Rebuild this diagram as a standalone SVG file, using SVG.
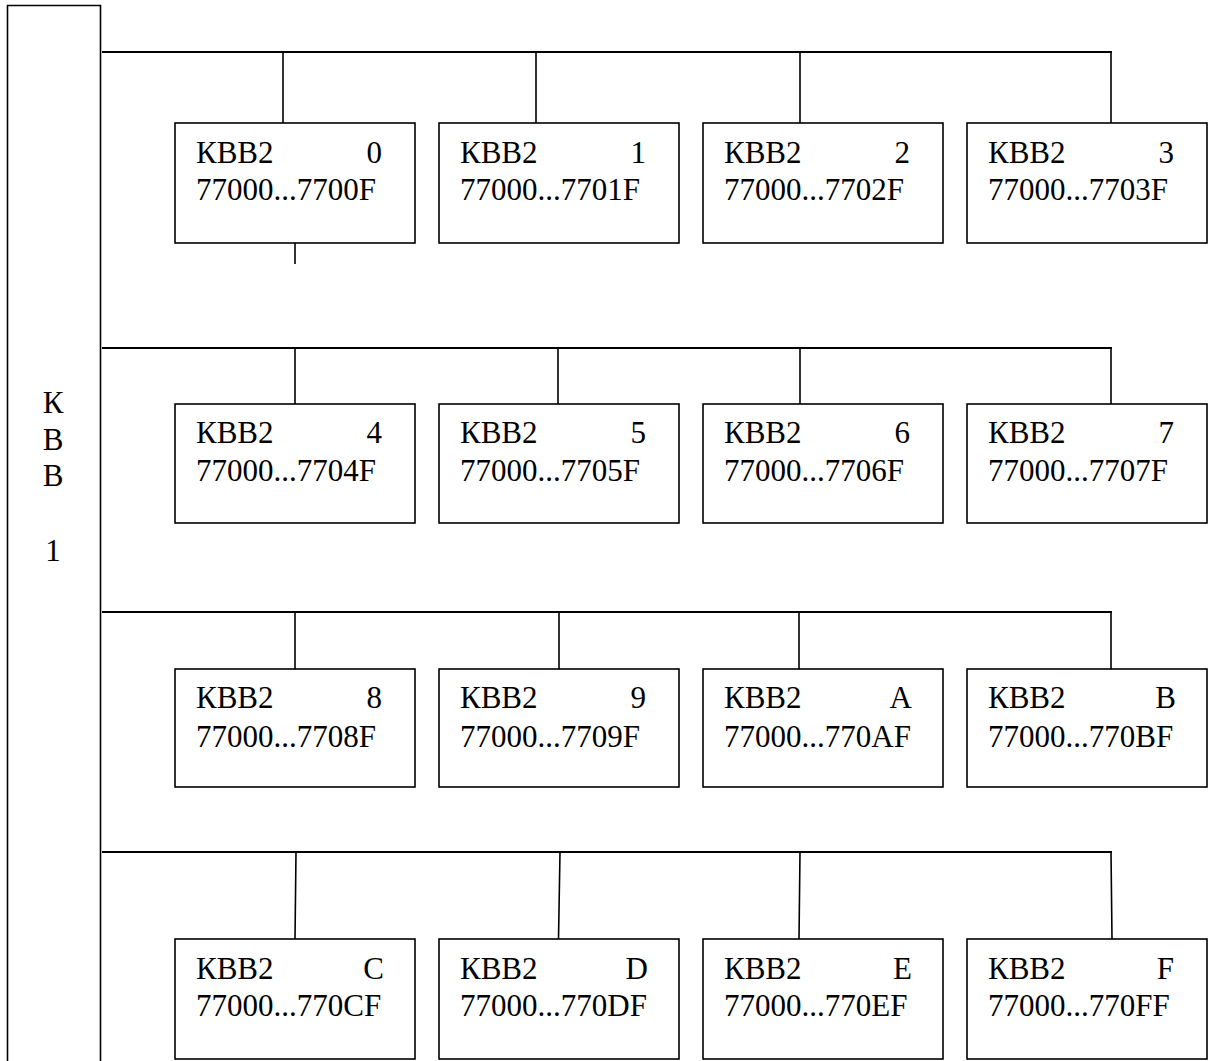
<svg xmlns="http://www.w3.org/2000/svg" width="1208" height="1061" viewBox="0 0 1208 1061">
<style>
.box{fill:#fff;stroke:#000;stroke-width:1.6}
.bus{fill:none;stroke:#000;stroke-width:2.2}
.drop{fill:none;stroke:#000;stroke-width:1.6}
text{font-family:"Liberation Serif","Times New Roman",serif;font-size:31px;fill:#000}
.r{text-anchor:end}
.c{text-anchor:middle}
</style>
<rect width="1208" height="1061" fill="#fff"/>
<g id="kvv1">
<path class="box" d="M7.5,1070 V5.5 H100.5 V1070"/>
<text class="c" x="53" y="413">К</text>
<text class="c" x="53" y="450">В</text>
<text class="c" x="53" y="486">В</text>
<text class="c" x="53" y="561">1</text>
</g>
<g id="connectors">
<path class="bus" d="M102,52 H1112 M102,348 H1112 M102,612 H1112 M102,852 H1112"/>
<path class="drop" d="M283,52 V123 M536,52 V123 M800,52 V123 M1111,52 V123 M295,243 V264
M295,348 V404 M558,348 V404 M800,348 V404 M1111,348 V404
M295,612 V669 M559,612 V669 M799,612 V669 M1111,612 V669
M296,852 L295,939 M560,852 L558.5,939 M800,852 L799,939 M1111,852 L1112,939"/>
</g>
<g id="n0"><rect class="box" x="175" y="123" width="240" height="120"/><text x="196" y="162.5">КВВ2</text><text class="r" x="382" y="162.5">0</text><text x="196" y="200">77000...7700F</text></g>
<g id="n1"><rect class="box" x="439" y="123" width="240" height="120"/><text x="460" y="162.5">КВВ2</text><text class="r" x="646" y="162.5">1</text><text x="460" y="200">77000...7701F</text></g>
<g id="n2"><rect class="box" x="703" y="123" width="240" height="120"/><text x="724" y="162.5">КВВ2</text><text class="r" x="910" y="162.5">2</text><text x="724" y="200">77000...7702F</text></g>
<g id="n3"><rect class="box" x="967" y="123" width="240" height="120"/><text x="988" y="162.5">КВВ2</text><text class="r" x="1174" y="162.5">3</text><text x="988" y="200">77000...7703F</text></g>
<g id="n4"><rect class="box" x="175" y="404" width="240" height="119"/><text x="196" y="443">КВВ2</text><text class="r" x="382" y="443">4</text><text x="196" y="480.5">77000...7704F</text></g>
<g id="n5"><rect class="box" x="439" y="404" width="240" height="119"/><text x="460" y="443">КВВ2</text><text class="r" x="646" y="443">5</text><text x="460" y="480.5">77000...7705F</text></g>
<g id="n6"><rect class="box" x="703" y="404" width="240" height="119"/><text x="724" y="443">КВВ2</text><text class="r" x="910" y="443">6</text><text x="724" y="480.5">77000...7706F</text></g>
<g id="n7"><rect class="box" x="967" y="404" width="240" height="119"/><text x="988" y="443">КВВ2</text><text class="r" x="1174" y="443">7</text><text x="988" y="480.5">77000...7707F</text></g>
<g id="n8"><rect class="box" x="175" y="669" width="240" height="118"/><text x="196" y="708">КВВ2</text><text class="r" x="382" y="708">8</text><text x="196" y="746.5">77000...7708F</text></g>
<g id="n9"><rect class="box" x="439" y="669" width="240" height="118"/><text x="460" y="708">КВВ2</text><text class="r" x="646" y="708">9</text><text x="460" y="746.5">77000...7709F</text></g>
<g id="nA"><rect class="box" x="703" y="669" width="240" height="118"/><text x="724" y="708">КВВ2</text><text class="r" x="912" y="708">A</text><text x="724" y="746.5">77000...770AF</text></g>
<g id="nB"><rect class="box" x="967" y="669" width="240" height="118"/><text x="988" y="708">КВВ2</text><text class="r" x="1176" y="708">B</text><text x="988" y="746.5">77000...770BF</text></g>
<g id="nC"><rect class="box" x="175" y="939" width="240" height="120"/><text x="196" y="978.5">КВВ2</text><text class="r" x="384" y="978.5">C</text><text x="196" y="1016">77000...770CF</text></g>
<g id="nD"><rect class="box" x="439" y="939" width="240" height="120"/><text x="460" y="978.5">КВВ2</text><text class="r" x="648" y="978.5">D</text><text x="460" y="1016">77000...770DF</text></g>
<g id="nE"><rect class="box" x="703" y="939" width="240" height="120"/><text x="724" y="978.5">КВВ2</text><text class="r" x="912" y="978.5">E</text><text x="724" y="1016">77000...770EF</text></g>
<g id="nF"><rect class="box" x="967" y="939" width="240" height="120"/><text x="988" y="978.5">КВВ2</text><text class="r" x="1174" y="978.5">F</text><text x="988" y="1016">77000...770FF</text></g>
</svg>
